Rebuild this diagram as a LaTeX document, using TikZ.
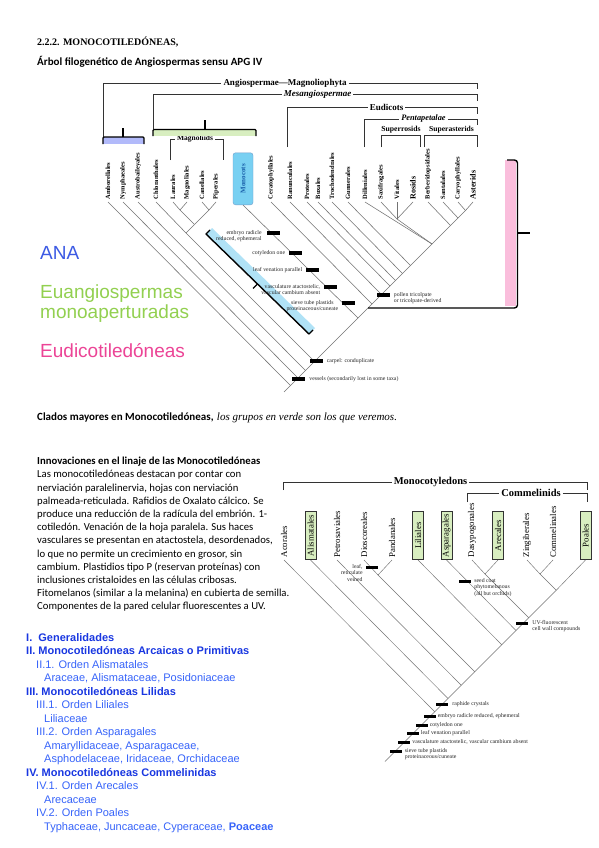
\documentclass[tikz,border=0pt]{standalone}
\usepackage{fontspec}
\setmainfont{Liberation Serif}
\newfontfamily\calibri{Carlito}
\newfontfamily\arial{Liberation Sans}
\usetikzlibrary{
    positioning,                      % left=of, right=of
    calc                              % aritmetica de coordenadas
}
\definecolor{azulANA}{RGB}{60,90,228}
\definecolor{verdeEuang}{RGB}{146,208,80}
\definecolor{rosaEud}{RGB}{236,68,150}
\definecolor{lavanda}{RGB}{178,186,250}
\definecolor{verdeclaro}{RGB}{216,238,192}
\definecolor{celeste}{RGB}{120,208,242}
\definecolor{celesteclaro}{RGB}{176,226,246}
\definecolor{rosaclaro}{RGB}{250,190,220}
\definecolor{azultitulo}{RGB}{25,55,225}
\definecolor{azulitem}{RGB}{55,100,250}
\definecolor{textoMono}{RGB}{25,95,170}
\newcommand{\tam}[2]{\fontsize{#1}{#2}\selectfont}
\tikzset{
    rama/.style={
        draw=black!55, line width=0.55pt
    },
    ramam/.style={
        draw=black!55, line width=0.45pt
    },
    hoja/.style={
        rotate=90, anchor=west, inner sep=2.5pt,
        font=\bfseries\tam{6.5}{7}
    },
    hojagrande/.style={
        hoja, font=\bfseries\tam{8}{9}
    },
    caja/.style={
        rotate=90, anchor=west, rounded corners=2.5pt,
        draw=textoMono!60, fill=celeste, text=textoMono,
        minimum width=52pt, minimum height=20pt, inner sep=0pt,
        font=\bfseries\tam{7}{8}
    },
    hojam/.style={
        rotate=90, anchor=west, inner sep=2.5pt,
        font=\tam{8.8}{9}
    },
    cajam/.style={
        hojam, draw=black!80, fill=verdeclaro, line width=0.6pt,
        minimum width=48pt, minimum height=11pt, inner sep=0pt
    },
    marca/.style={
        fill=black, minimum width=13pt, minimum height=3.5pt, inner sep=0pt
    },
    marcam/.style={
        marca, minimum width=12pt, minimum height=3pt
    },
    nota/.style={
        font=\tam{5.8}{6.4}, inner sep=0pt, text=black!85
    },
    corchete/.style={
        draw=black!80, line width=0.9pt
    },
    llave/.style={
        draw=black, line width=1.4pt
    },
    grupo/.style={
        font=\bfseries\tam{9}{10}, fill=white, inner sep=2pt
    },
    texto/.style={
        anchor=base west, inner sep=0pt
    }
}

\begin{document}
\begin{tikzpicture}[x=1pt, y=-1pt]
    \path[use as bounding box, fill=white] (0,0) rectangle (599,848);

    % --- Encabezados ---
    \node[texto, font=\bfseries\tam{10}{12}] (seccion) at (37,45.5) {2.2.2. MONOCOTILEDÓNEAS,};
    \node[texto, font=\calibri\bfseries\tam{11}{13}] (titulo) at (37,66)
        {Árbol filogenético de Angiospermas sensu APG IV};

    % --- Árbol de angiospermas: hojas ---
    \foreach \n/\x/\t in {amb/108/Amborellales, nym/123/Nymphaeales, aus/138/Austrobaileyales,
            chl/156/Chloranthales, lau/173/Laurales, mag/187/Magnoliales, can/202/Canellales,
            pip/216/Piperales, cer/271/Ceratophyllales, ran/290/Ranunculales, pro/307/Proteales,
            bux/318/Buxales, tro/332/Trochodendrales, gun/348/Gunnerales, dil/365/Dilleniales,
            sax/381/Saxifragales, vit/397/Vitales, ber/428/Berberidopsidales, san/443/Santalales,
            car/458/Caryophyllales}
        \node[hoja] (\n) at (\x,202) {\t};
    \node[hojagrande] (ros) at (413,202) {Rosids};
    \node[hojagrande] (ast) at (473,202) {Asterids};
    \node[caja] (mon) at (243,205) {Monocots};

    % nodos internos (ramas a 45 grados)
    \foreach \n/\x/\y in {nLM/180/210, nCP/209/210, nMag/194.5/224.5, nChM/186/233,
            nCA/465.5/210.5, nSCA/458/218, nSAst/450.5/225.5, nSRos/397/219, nPent/432/244,
            nGun/410.5/265.5, nTro/402.5/273.5, nBux/395.5/280.5, nPro/390/286, nEud/381.5/294.5,
            nCer/372/304, nMon/358/318, nMes/314.5/361.5, nAus/305.5/370.5, nNym/298/378,
            nRaiz/290.5/385.5, nTallo/284/392}
        \coordinate (\n) at (\x,\y);

    \draw[rama] (ast.west) -- (nCA) -- (nSCA) -- (nSAst) -- (nPent) -- (nGun) -- (nTro)
        -- (nBux) -- (nPro) -- (nEud) -- (nCer) -- (nMon) -- (nMes) -- (nAus) -- (nNym)
        -- (nRaiz) -- (nTallo);
    \foreach \a/\b in {amb.west/nRaiz, nym.west/nNym, aus.west/nAus, chl.west/nChM, nChM/nMes,
            lau.west/nLM, mag.west/nLM, nLM/nMag, can.west/nCP, pip.west/nCP, nCP/nMag,
            nMag/nChM, mon.west/nMon, cer.west/nCer, ran.west/nEud, pro.west/nPro,
            bux.west/nBux, tro.west/nTro, gun.west/nGun, dil.west/nPent, sax.west/nSRos,
            vit.west/nSRos, ros.west/nSRos, nSRos/nPent, ber.west/nSAst, san.west/nSCA,
            car.west/nCA}
        \draw[rama] (\a) -- (\b);

    % --- Corchetes de grupos ---
    \node[grupo] (angio) at (285,83) {Angiospermae—Magnoliophyta};
    \draw[corchete] (103,137) |- (angio.west);
    \draw[corchete] (angio.east) -| (477,89);
    \node[grupo, font=\bfseries\itshape\tam{9}{10}] (mesan) at (317.5,94) {Mesangiospermae};
    \draw[corchete] (153,129) |- (mesan.west);
    \draw[corchete] (mesan.east) -| (477,101);
    \node[grupo] (eudi) at (386.5,107) {Eudicots};
    \draw[corchete] (287,147) |- (eudi.west);
    \draw[corchete] (eudi.east) -| (477,114);
    \node[grupo, font=\bfseries\itshape\tam{8.3}{9}] (penta) at (423.5,119) {Pentapetalae};
    \draw[corchete] (364,147) |- (penta.west);
    \draw[corchete] (penta.east) -| (477,125);
    \node[inner sep=0pt, font=\bfseries\tam{7.7}{8}] (suros) at (401,129.5) {Superrosids};
    \draw[corchete] (381,147) -- (381,135) -- (420,135) -- (420,147);
    \node[inner sep=0pt, font=\bfseries\tam{7.6}{8}] (suast) at (451.5,129.5) {Superasterids};
    \draw[corchete] (424,147) -- (424,135) -- (477,135) -- (477,147);
    \node[grupo, font=\bfseries\tam{7.5}{8}] (magn) at (195,139) {Magnoliids};
    \draw[corchete] (170,160) |- (magn.west);
    \draw[corchete] (magn.east) -| (223,160);

    % llaves de color (ANA, Mesangiospermas, Eudicotiledoneas)
    \fill[lavanda] (103,137) rectangle (144,144);
    \draw[llave, rounded corners=1pt] (103,144) |- (144,137) -- (144,144);
    \draw[llave] (123,137) -- (123,128);
    \fill[verdeclaro] (153,129.5) rectangle (256,136);
    \draw[llave, rounded corners=1pt] (153,136) |- (256,129.5) -- (256,136);
    \draw[llave] (205,129.5) -- (205,120);
    \fill[celesteclaro] (206,234) -- (309,334) -- (315,328) -- (212,228) -- cycle;
    \draw[llave, line join=round] (210,230) -- (206,234) -- (309,334) -- (313,330);
    \draw[llave] (257.5,284) -- (253,288.5);
    \fill[rosaclaro] (505,160) rectangle (515.5,306);
    \draw[llave, rounded corners=3pt] (507,160) -- (517.5,160) -- (517.5,308) -- (368,308);
    \draw[llave] (517.5,233) -- (530,233);

    % --- Sinapomorfias ---
    \node[marca] (mEmb) at (273.5,233) {};
    \node[nota, anchor=north east, align=right] (tEmb) at ([xshift=-5pt, yshift=2.7pt]mEmb.west)
        {embryo radicle\\reduced, ephemeral};
    \node[marca] (mCot) at (295,253) {};
    \node[nota, left=3pt of mCot] (tCot) {cotyledon one};
    \node[marca] (mVen) at (312,270) {};
    \node[nota, left=3pt of mVen] (tVen) {leaf venation parallel};
    \node[marca] (mVas) at (330,287) {};
    \node[nota, anchor=north east, align=right] (tVas) at ([xshift=-3pt, yshift=2.7pt]mVas.west)
        {vasculature atactostelic,\\vascular cambium absent};
    \node[marca] (mCri) at (348,303) {};
    \node[nota, anchor=north east, align=center] (tCri) at ([xshift=-3pt, yshift=2.7pt]mCri.west)
        {sieve tube plastids\\proteinaceous/cuneate};
    \node[marca] (mCar) at (316,361) {};
    \node[nota, right=4pt of mCar] (tCar) {carpel: conduplicate};
    \node[marca] (mVes) at (298.5,379) {};
    \node[nota, right=4pt of mVes] (tVes) {vessels (secondarily lost in some taxa)};
    \node[marca] (mPol) at (383,295) {};
    \node[nota, anchor=north west, align=left] (tPol) at ([xshift=4pt, yshift=2.7pt]mPol.east)
        {pollen tricolpate\\or tricolpate-derived};

    % --- Etiquetas de color ---
    \node[texto, font=\arial\tam{19}{22}, text=azulANA] (ana) at (40,259) {ANA};
    \node[texto, font=\arial\tam{19}{22}, text=verdeEuang] (euang) at (40,298) {Euangiospermas};
    \node[texto, font=\arial\tam{19}{22}, text=verdeEuang] (monoap) at (40,318) {monoaperturadas};
    \node[texto, font=\arial\tam{19}{22}, text=rosaEud] (eudic) at (40,357) {Eudicotiledóneas};

    \node[texto, font=\calibri\bfseries\tam{11}{13}] (clados) at (37,420)
        {Clados mayores en Monocotiledóneas,};
    \node[texto, font=\itshape\tam{11}{13}] (veremos) at ([xshift=3pt]clados.base east)
        {los grupos en verde son los que veremos.};

    % --- Texto de innovaciones ---
    \node[anchor=north west, inner sep=0pt, align=left, font=\calibri\tam{10.7}{13.2}] (innov) at (37,457)
        {\textbf{Innovaciones en el linaje de las Monocotiledóneas}\\
        Las monocotiledóneas destacan por contar con\\
        nerviación paralelinervia, hojas con nerviación\\
        palmeada-reticulada. Rafidios de Oxalato cálcico. Se\\
        produce una reducción de la radícula del embrión. 1-\\
        cotiledón. Venación de la hoja paralela. Sus haces\\
        vasculares se presentan en atactostela, desordenados,\\
        lo que no permite un crecimiento en grosor, sin\\
        cambium. Plastidios tipo P (reservan proteínas) con\\
        inclusiones cristaloides en las células cribosas.\\
        Fitomelanos (similar a la melanina) en cubierta de semilla.\\
        Componentes de la pared celular fluorescentes a UV.};

    % --- Árbol de monocotiledóneas ---
    \node[grupo, font=\bfseries\tam{10.5}{12}] (monoc) at (430.5,482) {Monocotyledons};
    \draw[corchete] (283,490) |- (monoc.west);
    \draw[corchete] (monoc.east) -| (587,490);
    \node[grupo, font=\bfseries\tam{10.5}{12}] (comme) at (531,493) {Commelinids};
    \draw[corchete] (467,502) |- (comme.west);
    \draw[corchete] (comme.east) -| (587,502);

    \foreach \n/\x/\t in {aco/284/Acorales, pet/337/Petrosaviales, dio/364/Dioscoreales,
            pan/392/Pandanales, das/472/Dasypogonales, zin/527/Zingiberales, com/553/Commelinales}
        \node[hojam] (\n) at (\x,560) {\t};
    \foreach \n/\x/\t in {ali/310.5/Alismatales, lil/418/Liliales, asp/446.5/Asparagales,
            are/498/Arecales, poa/585.5/Poales}
        \node[cajam] (\n) at (\x,560) {\t};

    \foreach \n/\x/\y in {bDA/485/574, bZC/540/574, bZP/556.25/590.25, bCom/528.75/617.75,
            bAsp/516/630.5, bLil/501.75/644.75, bDP/378/575, bDio/474.75/671.75,
            bPet/461.25/685.25, bAli/448/698.5, bRaiz/434.75/711.75, bTallo/385/761.5}
        \coordinate (\n) at (\x,\y);

    \draw[ramam] (poa.west) -- (bZP) -- (bCom) -- (bAsp) -- (bLil) -- (bDio) -- (bPet)
        -- (bAli) -- (bRaiz) -- (bTallo);
    \foreach \a/\b in {aco.west/bRaiz, ali.west/bAli, pet.west/bPet, dio.west/bDP, pan.west/bDP,
            bDP/bDio, lil.west/bLil, asp.west/bAsp, das.west/bDA, are.west/bDA, bDA/bCom,
            zin.west/bZC, com.west/bZC, bZC/bZP}
        \draw[ramam] (\a) -- (\b);

    % sinapomorfias de monocotiledoneas
    \node[marcam] (mUV) at (522,623) {};
    \node[nota, anchor=north west, align=left] (tUV) at ([xshift=4pt, yshift=2.7pt]mUV.east)
        {UV-fluorescent\\cell wall compounds};
    \node[marcam] (mSem) at (465,581) {};
    \node[nota, anchor=north west, align=left] (tSem) at ([xshift=3pt, yshift=2.7pt]mSem.east)
        {seed coat\\phytomelanous\\(all but orchids)};
    \node[marcam] (mDio) at (372,567) {};
    \node[nota, anchor=north east, align=right] (tDio) at ([xshift=-3pt, yshift=2.7pt]mDio.west)
        {leaf,\\reticulate\\veined};
    \node[marcam] (mRaf) at (442,704) {};
    \node[nota, right=4pt of mRaf] (tRaf) {raphide crystals};
    \node[marcam] (mEmb2) at (429.5,716) {};
    \node[nota, right=2pt of mEmb2] (tEmb2) {embryo radicle reduced, ephemeral};
    \node[marcam] (mCot2) at (421.5,725) {};
    \node[nota, right=2pt of mCot2] (tCot2) {cotyledon one};
    \node[marcam] (mVen2) at (412.5,733) {};
    \node[nota, right=2pt of mVen2] (tVen2) {leaf venation parallel};
    \node[marcam] (mVas2) at (404,742) {};
    \node[nota, right=2pt of mVas2] (tVas2) {vasculature atactostelic, vascular cambium absent};
    \node[marcam] (mCri2) at (395.5,751) {};
    \node[nota, anchor=north west, align=left] (tCri2) at ([xshift=3pt, yshift=2.7pt]mCri2.east)
        {sieve tube plastids\\proteinaceous/cuneate};

    % --- Índice de contenidos ---
    \node[anchor=north west, inner sep=0pt, align=left, font=\arial\tam{11}{13.5}] (indice) at (26,633)
        {\textcolor{azultitulo}{\textbf{I.\ \ Generalidades}}\\
        \textcolor{azultitulo}{\textbf{II. Monocotiledóneas Arcaicas o Primitivas}}\\
        \hspace*{10pt}\textcolor{azulitem}{II.1. Orden Alismatales}\\
        \hspace*{18pt}\textcolor{azulitem}{Araceae, Alismataceae, Posidoniaceae}\\
        \textcolor{azultitulo}{\textbf{III. Monocotiledóneas Lilidas}}\\
        \hspace*{10pt}\textcolor{azulitem}{III.1. Orden Liliales}\\
        \hspace*{18pt}\textcolor{azulitem}{Liliaceae}\\
        \hspace*{10pt}\textcolor{azulitem}{III.2. Orden Asparagales}\\
        \hspace*{18pt}\textcolor{azulitem}{Amaryllidaceae, Asparagaceae,}\\
        \hspace*{18pt}\textcolor{azulitem}{Asphodelaceae, Iridaceae, Orchidaceae}\\
        \textcolor{azultitulo}{\textbf{IV. Monocotiledóneas Commelinidas}}\\
        \hspace*{10pt}\textcolor{azulitem}{IV.1. Orden Arecales}\\
        \hspace*{18pt}\textcolor{azulitem}{Arecaceae}\\
        \hspace*{10pt}\textcolor{azulitem}{IV.2. Orden Poales}\\
        \hspace*{18pt}\textcolor{azulitem}{Typhaceae, Juncaceae, Cyperaceae, \textbf{Poaceae}}};
\end{tikzpicture}
\end{document}
